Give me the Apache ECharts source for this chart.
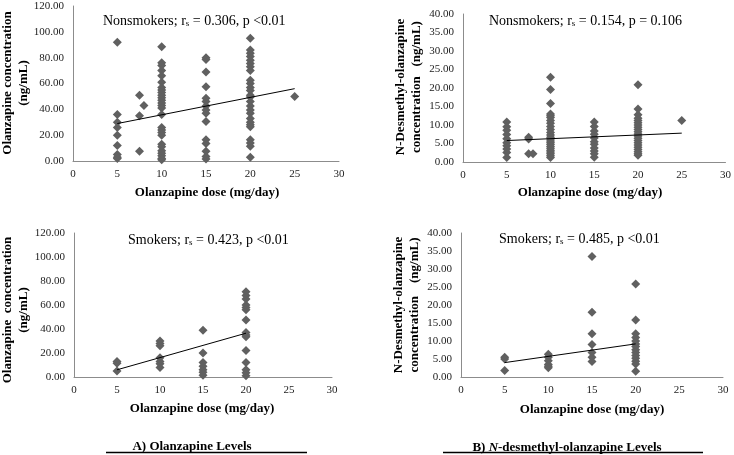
<!DOCTYPE html>
<html>
<head>
<meta charset="utf-8">
<script src="https://cdn.jsdelivr.net/npm/echarts@6/dist/echarts.min.js"></script>
<style>html,body{margin:0;padding:0;background:#fff}#c{width:734px;height:455px}</style>
</head>
<body>
<div id="c"></div>
<script>
// ---- Panel A1: Nonsmokers, olanzapine ----
const nsOlzDose5 = [92, 36, 30, 26, 20, 12, 5, 3, 2];
const nsOlzDose75 = [51, 35, 7.5];
const nsOlzDose8 = [43];
const nsOlzDose10 = [88.5, 76, 74, 70, 66, 61, 57, 55, 53, 51, 49, 47, 45, 43, 41, 36, 26, 24, 22, 20, 13, 11, 8, 6, 4, 2, 1];
const nsOlzDose15 = [80, 78.5, 69, 57.5, 48.5, 46, 42.5, 39.5, 37, 30.5, 16.5, 13.5, 7.5, 3.5, 1.5];
const nsOlzDose20 = [95, 86, 83.5, 81, 78, 75.5, 73, 70, 62.5, 60, 57, 54.5, 51, 49.5, 46, 42.5, 39.5, 37, 33, 30, 28, 26.5, 16.5, 14, 11.5, 3];
const nsOlzDose25 = [50];
const nsOlzTrend = [[5, 29], [25, 56]];

// ---- Panel B1: Nonsmokers, N-desmethyl-olanzapine ----
const nsDesDose5 = [10.8, 9.5, 8.6, 7.4, 6.3, 5.2, 4.4, 3.5, 2.6, 1.2];
const nsDesDose75 = [6.7, 6.2, 2.2];
const nsDesDose8 = [2.2];
const nsDesDose10 = [22.9, 19.6, 15.8, 13, 12.5, 12, 11.2, 10.5, 9.6, 8.8, 8, 7.3, 6.7, 6.2, 5.7, 5.2, 4.7, 4.2, 3.7, 3.2, 2.7, 2.2, 1.7, 1.2];
const nsDesDose15 = [10.8, 9.6, 8.4, 7.5, 6.5, 5.5, 4.8, 3.8, 3.0, 2.2, 1.3];
const nsDesDose20 = [20.9, 14.3, 12.8, 11.8, 11.2, 10.6, 10, 9.4, 8.8, 8.2, 7.6, 7, 6.4, 5.8, 5.2, 4.6, 4, 3.4, 2.8, 2.2, 1.8];
const nsDesDose25 = [11.2];
const nsDesTrend = [[5, 5.8], [25, 7.8]];

// ---- Panel A2: Smokers, olanzapine ----
const smOlzDose5 = [13, 11.5, 5];
const smOlzDose10 = [30, 28, 26, 16, 13, 11, 8];
const smOlzDose15 = [39, 20, 12, 9, 6, 4, 1.5];
const smOlzDose20 = [71, 68, 65, 60, 58, 56, 47.5, 37, 35, 33.5, 22, 12, 6, 3.5, 1];
const smOlzTrend = [[5, 6], [20, 36.5]];

// ---- Panel B2: Smokers, N-desmethyl-olanzapine ----
const smDesDose5 = [5.5, 5, 1.8];
const smDesDose10 = [6.3, 5.5, 4.5, 3.5, 3, 2.6];
const smDesDose15 = [33.5, 18, 12, 9, 6.8, 5.5, 4.3];
const smDesDose20 = [25.8, 15.8, 12, 11, 10, 9.2, 8.5, 7.6, 6.8, 6, 5.2, 4.4, 3.6, 1.6];
const smDesTrend = [[5, 4], [20, 9.2]];

const xTicks = [0, 5, 10, 15, 20, 25, 30];

function pts(groups) {
  const out = [];
  groups.forEach(([dose, vals]) => vals.forEach(v => out.push([dose, v])));
  return out;
}

const panels = [
  { pts: pts([[5, nsOlzDose5], [7.5, nsOlzDose75], [8, nsOlzDose8], [10, nsOlzDose10], [15, nsOlzDose15], [20, nsOlzDose20], [25, nsOlzDose25]]), trend: nsOlzTrend, ymax: 120, yint: 20 },
  { pts: pts([[5, nsDesDose5], [7.5, nsDesDose75], [8, nsDesDose8], [10, nsDesDose10], [15, nsDesDose15], [20, nsDesDose20], [25, nsDesDose25]]), trend: nsDesTrend, ymax: 40, yint: 5 },
  { pts: pts([[5, smOlzDose5], [10, smOlzDose10], [15, smOlzDose15], [20, smOlzDose20]]), trend: smOlzTrend, ymax: 120, yint: 20 },
  { pts: pts([[5, smDesDose5], [10, smDesDose10], [15, smDesDose15], [20, smDesDose20]]), trend: smDesTrend, ymax: 40, yint: 5 }
];

const grids = [
  { left: 73, top: 6, width: 266, height: 155 },
  { left: 463, top: 14, width: 264, height: 148 },
  { left: 74, top: 233, width: 258, height: 144 },
  { left: 461, top: 233, width: 262, height: 144 }
];

const FONT = '"Liberation Serif", "Times New Roman", serif';
const axisLine = { show: true, lineStyle: { color: '#8c8c8c', width: 1 } };

const xAxes = grids.map((g, i) => ({
  type: 'value', gridIndex: i, min: 0, max: 30, interval: 5,
  axisLine: axisLine, axisTick: { show: false }, splitLine: { show: false },
  axisLabel: { fontFamily: FONT, fontSize: 11, color: '#222', margin: 8,
    formatter: v => xTicks.includes(v) ? String(v) : '' }
}));
const yAxes = grids.map((g, i) => ({
  type: 'value', gridIndex: i, min: 0, max: panels[i].ymax, interval: panels[i].yint,
  axisLine: axisLine, axisTick: { show: false }, splitLine: { show: false },
  axisLabel: { fontFamily: FONT, fontSize: 11, color: '#222', margin: 9,
    formatter: v => v.toFixed(2) }
}));

const series = [];
panels.forEach((p, i) => {
  series.push({ type: 'scatter', xAxisIndex: i, yAxisIndex: i, data: p.pts,
    symbol: 'diamond', symbolSize: [9, 9], itemStyle: { color: '#606060', opacity: 1 }, z: 2 });
  series.push({ type: 'line', xAxisIndex: i, yAxisIndex: i, data: p.trend,
    symbol: 'none', lineStyle: { color: '#000', width: 1 }, z: 3 });
});

const rich = { b: { fontFamily: FONT, fontSize: 14, color: '#000' }, s: { fontFamily: FONT, fontSize: 9, color: '#000', padding: [6, 0, 0, 0] } };
function note(x, y, pre, post) {
  return { type: 'text', left: x, top: y, style: { text: '{b|' + pre + ' r}{s|s}{b| ' + post + '}', rich: rich } };
}
function vtitle(cx, cy, text) {
  return { type: 'text', x: cx, y: cy, rotation: Math.PI / 2,
    style: { text: text, fontFamily: FONT, fontSize: 13, fontWeight: 'bold', fill: '#000', align: 'center', verticalAlign: 'middle', lineHeight: 16 } };
}
function xtitle(cx, cy) {
  return { type: 'text', x: cx, y: cy,
    style: { text: 'Olanzapine dose (mg/day)', fontFamily: FONT, fontSize: 13, fontWeight: 'bold', fill: '#000', align: 'center', verticalAlign: 'middle' } };
}

const graphic = [
  note(103, 14, 'Nonsmokers;', '= 0.306, p <0.01'),
  note(489, 14, 'Nonsmokers;', '= 0.154, p = 0.106'),
  note(128, 233, 'Smokers;', '= 0.423, p <0.01'),
  note(499, 232, 'Smokers;', '= 0.485, p <0.01'),
  vtitle(16, 83, 'Olanzapine concentration\n(ng/mL)'),
  vtitle(409, 87, 'N-Desmethyl-olanzapine\nconcentration   (ng/mL)'),
  vtitle(16, 310, 'Olanzapine  concentration\n(ng/mL)'),
  vtitle(407, 305, 'N-Desmethyl-olanzapine\nconcentration    (ng/mL)'),
  xtitle(207, 193), xtitle(590, 193), xtitle(202, 409), xtitle(592, 410),
  { type: 'text', x: 192, y: 447, style: { text: 'A) Olanzapine Levels', fontFamily: FONT, fontSize: 13, fontWeight: 'bold', fill: '#000', align: 'center', verticalAlign: 'middle' } },
  { type: 'text', x: 567, y: 448, style: { text: '{n|B) }{i|N}{n|-desmethyl-olanzapine Levels}', align: 'center', verticalAlign: 'middle',
      rich: { n: { fontFamily: FONT, fontSize: 13, fontWeight: 'bold', color: '#000' }, i: { fontFamily: FONT, fontSize: 13, fontWeight: 'bold', fontStyle: 'italic', color: '#000' } } } },
  { type: 'line', shape: { x1: 106, y1: 452.5, x2: 307, y2: 452.5 }, style: { stroke: '#000', lineWidth: 1.5 } },
  { type: 'line', shape: { x1: 443, y1: 452.5, x2: 703, y2: 452.5 }, style: { stroke: '#000', lineWidth: 1.5 } }
];

const chart = echarts.init(document.getElementById('c'), null, { renderer: 'canvas' });
chart.setOption({
  animation: false,
  backgroundColor: '#fff',
  grid: grids,
  xAxis: xAxes,
  yAxis: yAxes,
  series: series,
  graphic: graphic
});
</script>
</body>
</html>
